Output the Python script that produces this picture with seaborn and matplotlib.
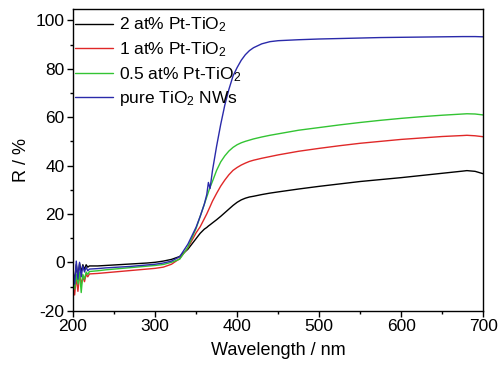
import numpy as np
import pandas as pd
import matplotlib
matplotlib.use("Agg")
import matplotlib.pyplot as plt
import seaborn as sns

wavelength = [200, 202, 204, 206, 208, 210, 212, 214, 216, 218, 220, 230, 240, 250,
              260, 270, 280, 290, 300, 310, 320, 330, 340, 350, 355, 360, 363, 365, 367,
              370, 375, 380, 385, 390, 395, 400, 405, 410, 415, 420, 430, 440, 450, 475,
              500, 525, 550, 575, 600, 625, 650, 675, 680, 690, 700]

pt2 = [-4, -8, -1, -6, -0.5, -4, -1, -3, -1, -2, -1.5, -1.5, -1.3, -1.1,
       -0.9, -0.7, -0.5, -0.3, 0.0, 0.5, 1.2, 2.4, 5.4, 9.8, 12.0, 13.7, 14.4, 15.0, 15.5,
       16.3, 17.6, 19.0, 20.5, 22.0, 23.5, 24.8, 25.8, 26.5, 27.0, 27.3, 28.0, 28.6, 29.1, 30.3,
       31.4, 32.4, 33.4, 34.2, 35.0, 35.9, 36.8, 37.7, 37.9, 37.6, 36.6]

pt1 = [-9, -13.5, -6, -12, -5, -9, -6, -8, -5, -6, -4.8, -4.6, -4.3, -4.0,
       -3.7, -3.4, -3.1, -2.8, -2.5, -2.0, -0.8, 1.5, 6.0, 12.2, 14.7, 18.0, 20.0, 21.5, 23.0,
       25.3, 28.5, 31.5, 34.0, 36.2, 38.0, 39.2, 40.2, 41.0, 41.7, 42.2, 43.0, 43.7, 44.4, 45.9,
       47.1, 48.2, 49.2, 50.0, 50.8, 51.4, 52.0, 52.4, 52.5, 52.3, 51.9]

pt05 = [-8, -11, -5, -9, -4, -12.5, -5, -7, -4, -5, -3.8, -3.5, -3.1, -2.8,
        -2.5, -2.2, -1.9, -1.6, -1.3, -0.9, 0.0, 1.3, 6.2, 14.0, 19.0, 24.0, 27.0, 29.0, 31.0,
        33.5, 38.0, 41.5, 44.0, 46.0, 47.5, 48.6, 49.4, 50.0, 50.5, 51.0, 51.8, 52.5, 53.1, 54.6,
        55.7, 56.8, 57.8, 58.7, 59.5, 60.2, 60.8, 61.3, 61.4, 61.3, 60.9]

pure = [-3, -9, 0.5, -7, 0, -6, -1.5, -4, -2, -3.5, -2.8, -2.6, -2.3, -2.1,
        -1.9, -1.7, -1.4, -1.1, -0.8, -0.3, 0.5, 2.3, 7.5, 14.5, 19.0, 24.0, 28.0, 33.0, 30.5,
        38.0, 48.0, 57.0, 65.0, 71.5, 77.0, 80.5, 83.5, 85.8, 87.5, 88.7, 90.3, 91.2, 91.6, 92.0,
        92.3, 92.5, 92.7, 92.9, 93.0, 93.1, 93.2, 93.3, 93.3, 93.3, 93.2]

labels = ["2 at% Pt-TiO$_2$", "1 at% Pt-TiO$_2$", "0.5 at% Pt-TiO$_2$", "pure TiO$_2$ NWs"]
series = [pt2, pt1, pt05, pure]
colors = ["#000000", "#e02828", "#33c433", "#2a2aaa"]

frames = []
for lab, vals in zip(labels, series):
    frames.append(pd.DataFrame({"Wavelength": wavelength, "R": vals, "Sample": lab}))
df = pd.concat(frames, ignore_index=True)

sns.set_style("ticks")
plt.rcParams['font.family'] = ['Liberation Sans', 'DejaVu Sans']
plt.rcParams['mathtext.fontset'] = 'custom'
plt.rcParams['mathtext.rm'] = 'Liberation Sans'
plt.rcParams['mathtext.it'] = 'Liberation Sans:italic'
plt.rcParams['axes.unicode_minus'] = False
plt.rcParams['text.color'] = 'black'
plt.rcParams['axes.labelcolor'] = 'black'

fig = plt.figure(figsize=(4.99, 3.66), dpi=100)
ax = fig.add_axes([73 / 499, 1 - 310.7 / 366, (483.3 - 73) / 499, (310.7 - 9) / 366])

sns.lineplot(data=df, x="Wavelength", y="R", hue="Sample", palette=colors,
             hue_order=labels, estimator=None, sort=False, linewidth=1.0, ax=ax)

ax.set_xlim(200, 700)
ax.set_ylim(-20, 104.7)
ax.set_xticks([200, 300, 400, 500, 600, 700])
ax.set_yticks([-20, 0, 20, 40, 60, 80, 100])
ax.set_xticks([250, 350, 450, 550, 650], minor=True)
ax.set_yticks([-10, 10, 30, 50, 70, 90], minor=True)
ax.tick_params(which='major', direction='out', length=4, width=1, labelsize=12.5, pad=2,
               colors='black')
ax.tick_params(which='minor', direction='out', length=2, width=1, colors='black')
for s in ax.spines.values():
    s.set_visible(True)
    s.set_linewidth(1.0)
    s.set_color('black')

ax.set_xlabel("Wavelength / nm", fontsize=13, labelpad=6, color='black')
ax.set_ylabel("R / %", fontsize=13, labelpad=4, color='black')

leg = ax.legend(loc='upper left', bbox_to_anchor=(0.005, 0.978), frameon=False,
                fontsize=12.5, handlelength=2.2, handletextpad=0.35, labelspacing=0.34,
                borderpad=0.0, borderaxespad=0.0)
for line in leg.get_lines():
    line.set_linewidth(1.0)
for t in leg.get_texts():
    t.set_color('black')

fig.savefig("out.png", dpi=100)
